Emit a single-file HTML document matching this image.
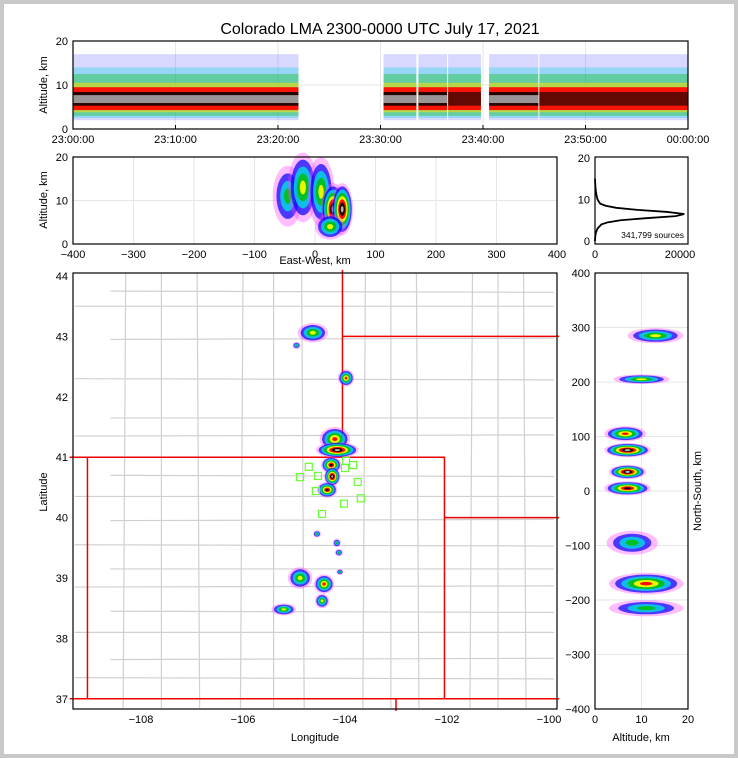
<!DOCTYPE html>
<html><head><meta charset="utf-8"><style>
body{margin:0;background:#fff}
svg{display:block;font-family:"Liberation Sans","DejaVu Sans",sans-serif}
</style></head><body>
<svg id="c" width="738" height="758">
<rect x="0" y="0" width="738" height="758" fill="#c8c8c8"/>
<rect x="4" y="4" width="730" height="750" fill="#fff"/>
<text x="380" y="34" font-size="16" text-anchor="middle">Colorado LMA 2300-0000 UTC July 17, 2021</text>
<g id="g"></g>
</svg>
<script>
// ---- data ----
const timeTicks=["23:00:00","23:10:00","23:20:00","23:30:00","23:40:00","23:50:00","00:00:00"];
const segStart=[0,30.3,33.7,36.6,40.6,45.5];
const segEnd=[22,33.5,36.5,39.8,45.4,60];
const segLevel=[5,5,5,4,5,4];
const ewTicks=[-400,-300,-200,-100,0,100,200,300,400];
const ewX=[-45,-20,10,30,45,25];
const ewAlt=[11,13,12,8,8,4];
const ewRx=[25,25,22,20,18,25];
const ewRy=[7,8,8,6,6,3];
const ewLevel=[1,2,2,5,5,2];
const histAlt=[0,1,2,3,4,4.5,5,5.5,6,6.5,7,7.5,8,8.5,9,10,11,12,13,14,15];
const histCount=[0,50,200,600,1500,3000,6000,12000,19000,21000,17000,10000,5000,2500,1200,600,350,200,100,40,0];
const lonTicks=[-108,-106,-104,-102,-100];
const latTicks=[37,38,39,40,41,42,43,44];
const blobLon=[-104.63,-104.95,-103.98,-104.2,-104.15,-104.27,-104.25,-104.35,-104.55,-104.16,-104.12,-104.88,-104.41,-104.45,-105.2,-104.1];
const blobLat=[43.06,42.85,42.31,41.3,41.12,40.87,40.68,40.46,39.73,39.58,39.42,39.0,38.9,38.62,38.48,39.1];
const blobRx=[0.3,0.08,0.16,0.3,0.42,0.2,0.16,0.2,0.08,0.08,0.08,0.24,0.2,0.14,0.24,0.07];
const blobRy=[0.16,0.06,0.14,0.2,0.13,0.14,0.16,0.13,0.06,0.07,0.06,0.18,0.16,0.12,0.1,0.05];
const blobLevel=[2,1,3,3,5,4,5,4,1,1,1,2,3,2,2,1];
const stLon=[-104.71,-104.88,-104.53,-104.57,-104.45,-103.98,-103.84,-104.0,-103.75,-103.69,-104.02];
const stLat=[40.84,40.67,40.69,40.44,40.06,40.94,40.87,40.82,40.59,40.32,40.23];
const nsTicks=[-400,-300,-200,-100,0,100,200,300,400];
const nsAlt=[13,10,6.5,7,7,7,8,11,11];
const nsKm=[285,205,105,75,35,5,-95,-170,-215];
const nsRa=[6,6,4.5,5,4,5,5.5,8,8];
const nsRk=[14,9,14,13,13,13,22,20,15];
const nsLevel=[2,2,3,5,5,4,1,3,1];

// ---- helpers ----
const NS="http://www.w3.org/2000/svg";
const G=document.getElementById('g');
function mk(tag,attrs,parent){const e=document.createElementNS(NS,tag);for(const k in attrs)e.setAttribute(k,attrs[k]);(parent||G).appendChild(e);return e;}
function txt(x,y,s,size,anchor,parent){const t=mk('text',{x:x,y:y,'font-size':size,'text-anchor':anchor||'middle'},parent);t.textContent=s;return t;}
const COLORS=['#ff40ff','#0000ff','#00e0e0','#00c000','#ffff00','#ff0000','#000000','#c0c0c0'];
const OPAC=[0.35,0.7,0.8,0.85,0.9,0.95,0.95,0.95];
function blob(parent,cx,cy,rx,ry,level){
  const n=level+3;
  for(let k=0;k<n;k++){
    const f=1-k/n;
    const e=mk('ellipse',{cx:cx,cy:cy,rx:Math.max(1,rx*f),ry:Math.max(1,ry*f),fill:COLORS[Math.min(k,COLORS.length-1)],opacity:OPAC[Math.min(k,7)]},parent);
    
    
  }
}
function frame(x,y,w,h,name){
  const r=mk('rect',{x:x,y:y,width:w,height:h,fill:'none',stroke:'#000','stroke-width':1.2});
  
  
}

// ---- panel 1: time-height ----
const p1=mk('g',{});
const tx=m=>73+m*615/60, ty=a=>129-a*88/20;
mk('line',{x1:73,x2:688,y1:ty(10),y2:ty(10),stroke:'#e6e6e6'},p1);
timeTicks.forEach((s,i)=>{const x=tx(i*10);mk('line',{x1:x,x2:x,y1:41,y2:129,stroke:'#e6e6e6'},p1);mk('line',{x1:x,x2:x,y1:129,y2:125,stroke:'#000'},p1);const t=txt(x,143,s,11,'middle',p1);});
const bands=[[2,17,'#6060ff',0.25],[2.5,14,'#00d0e0',0.3],[3,12.5,'#00c000',0.35],[3.8,10.5,'#ffe000',0.55],[4.3,9.5,'#ff0000',0.9],[5.3,8.4,'#000',0.85],[5.9,7.7,'#b0b0b0',0.85]];
segStart.forEach((s,i)=>{
  const lv=segLevel[i];
  bands.forEach((b,k)=>{
    if(lv<5 && k==6)return;
    const r=mk('rect',{x:tx(s),width:tx(segEnd[i])-tx(s),y:ty(b[1]),height:ty(b[0])-ty(b[1]),fill:b[2],opacity:(lv<5&&k==5)?0.6:b[3]},p1);
    
    
  });
});
[0,10,20].forEach(v=>{const t=txt(68,ty(v)+4,String(v),11,'end',p1);});
frame(73,41,615,88,'time-height-frame');
{const t=txt(0,0,'Altitude, km',11,'middle');t.setAttribute('transform','translate(47,85) rotate(-90)');}

// ---- panel 2: east-west ----
const p2=mk('g',{});
const ex=k=>315+k*242/400, ey=a=>244-a*87/20;
mk('line',{x1:73,x2:557,y1:ey(10),y2:ey(10),stroke:'#e6e6e6'},p2);
ewTicks.forEach(v=>{const x=ex(v);mk('line',{x1:x,x2:x,y1:157,y2:244,stroke:'#e6e6e6'},p2);const t=txt(x,258,(v<0?'\u2212':'')+Math.abs(v),11,'middle',p2);});
ewX.forEach((v,i)=>blob(p2,ex(v),ey(ewAlt[i]),ewRx[i]*242/400,ewRy[i]*87/20,ewLevel[i]));
[0,10,20].forEach(v=>{const t=txt(68,ey(v)+4,String(v),11,'end',p2);});
frame(73,157,484,87,'east-west-frame');
{const t=txt(315,264,'East-West, km',11);}
{const t=txt(0,0,'Altitude, km',11,'middle');t.setAttribute('transform','translate(47,200) rotate(-90)');}

// ---- panel 3: histogram ----
const p3=mk('g',{});
const hx=c=>595+c*85/20000, hy=a=>241-a*83/20;
const pts=histAlt.map((a,i)=>hx(histCount[i])+','+hy(a)).join(' ');
{const l=mk('polyline',{points:pts,fill:'none',stroke:'#000','stroke-width':1.8},p3);}
[0,10,20].forEach(v=>{const t=txt(590,hy(v)+4,String(v),11,'end',p3);});
[[0,595],[20000,680]].forEach(p=>{const t=txt(p[1],258,p[0]===0?'0':'20000',11,'middle',p3);});
{const t=txt(684,238,'341,799 sources',8.5,'end',p3);}
frame(595,157,93,87,'histogram-frame');

// ---- panel 4: map ----
const p4=mk('g',{});
const mx=l=>141+(l+108)*51, my=l=>276+(44-l)*60.4;
const cg='#d0d0d0';
[43.75,43.5,42.95,42.3,41.65,41.35,40.7,40.35,39.95,39.55,39.15,38.85,38.45,38.1,37.65,37.35].forEach((la,i)=>{const l=mk('line',{x1:mx(i%2?-109.3:-108.6),x2:mx(-99.9),y1:my(la),y2:my(la+((i%3)-1)*0.02),stroke:cg,'stroke-width':1.2},p4);});
[-108.3,-107.6,-106.9,-106.0,-105.4,-104.85,-103.6,-103.1,-102.6,-101.5,-101.0,-100.5].forEach((lo,i)=>{const l=mk('line',{x1:mx(lo),x2:mx(lo+((i%3)-1)*0.05),y1:my(44.05),y2:my(36.85),stroke:cg,'stroke-width':1.2},p4);});
[[[-109.05,37],[-109.05,41],[-102.05,41],[-102.05,37],[-109.05,37]],[[-104.05,41],[-104.05,44.1]],[[-104.05,43],[-99.8,43]],[[-102.05,40],[-99.8,40]],[[-109.4,37],[-99.8,37]],[[-103,37],[-103,36.8]],[[-109.4,41],[-109.05,41]]].forEach(s=>{const l=mk('polyline',{points:s.map(p=>mx(p[0])+','+my(p[1])).join(' '),fill:'none',stroke:'#ee0000','stroke-width':1.5},p4);});
blobLon.forEach((lo,i)=>blob(p4,mx(lo),my(blobLat[i]),blobRx[i]*51,blobRy[i]*60.4,blobLevel[i]));
stLon.forEach((lo,i)=>{const r=mk('rect',{x:mx(lo)-3.5,y:my(stLat[i])-3.5,width:7,height:7,fill:'none',stroke:'#66ff33','stroke-width':1.2},p4);});
lonTicks.forEach(v=>{const t=txt(mx(v),723,'\u2212'+Math.abs(v),11,'middle',p4);});
latTicks.forEach(v=>{const t=txt(68,my(v)+4,String(v),11,'end',p4);});
frame(73,273,484,436,'map-frame');
{const t=txt(315,741,'Longitude',11);}
{const t=txt(0,0,'Latitude',11,'middle');t.setAttribute('transform','translate(47,492) rotate(-90)');}

// ---- panel 5: north-south ----
const p5=mk('g',{});
const sx=a=>595+a*93/20, sy=k=>491-k*436/800;
mk('line',{x1:sx(10),x2:sx(10),y1:273,y2:709,stroke:'#e6e6e6'},p5);
nsTicks.forEach(v=>{mk('line',{x1:595,x2:688,y1:sy(v),y2:sy(v),stroke:'#e6e6e6'},p5);const t=txt(590,sy(v)+4,(v<0?'\u2212':'')+Math.abs(v),11,'end',p5);});
nsAlt.forEach((a,i)=>blob(p5,sx(a),sy(nsKm[i]),nsRa[i]*93/20,nsRk[i]*436/800,nsLevel[i]));
[0,10,20].forEach(v=>{const t=txt(sx(v),723,String(v),11,'middle',p5);});
frame(595,273,93,436,'north-south-frame');
{const t=txt(641,741,'Altitude, km',11);}
{const t=txt(0,0,'North-South, km',11,'middle');t.setAttribute('transform','translate(701,491) rotate(-90)');}
</script>
</body></html>
